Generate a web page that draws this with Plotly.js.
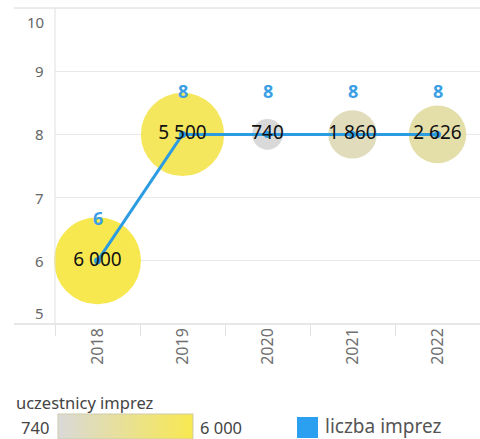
<!DOCTYPE html>
<html>
<head>
<meta charset="utf-8">
<script src="https://cdn.plot.ly/plotly-3.0.1.min.js"></script>
<style>html,body{margin:0;padding:0;background:#fff;}#chart{width:480px;height:439px;}</style>
</head>
<body>
<div id="chart"></div>
<script>
var years = ['2018', '2019', '2020', '2021', '2022'];
var eventCount = [6, 8, 8, 8, 8];            // liczba imprez
var participants = [6000, 5500, 740, 1860, 2626]; // uczestnicy imprez
var yTicks = [5, 6, 7, 8, 9, 10];
var sizeLabel = 'uczestnicy imprez';
var lineLabel = 'liczba imprez';

var pMin = Math.min.apply(null, participants);
var pMax = Math.max.apply(null, participants);
var maxDiameter = 87;
var FONT = 'Noto Sans, sans-serif';

// plot area in pixels: left 55, right 480, top 8, bottom 324
function px2x(p) { return (p - 55) / 425; }
function px2y(p) { return (324 - p) / 316; }

var bubbles = {
  type: 'scatter', mode: 'markers',
  x: years, y: eventCount,
  marker: {
    size: participants, sizemode: 'area',
    sizeref: 2 * pMax / (maxDiameter * maxDiameter),
    color: participants, cmin: pMin, cmax: pMax,
    colorscale: [[0, '#d9d9d9'], [1, '#f8e850']],
    opacity: 1, line: {width: 0},
    showscale: true,
    colorbar: {
      orientation: 'h', lenmode: 'pixels', len: 135, thickness: 25,
      x: px2x(58), xanchor: 'left', y: px2y(414), yanchor: 'top',
      xpad: 0, ypad: 0,
      outlinewidth: 1, outlinecolor: '#cfcba8',
      showticklabels: false, ticks: ''
    }
  },
  hoverinfo: 'skip', showlegend: false, cliponaxis: false
};

var line = {
  type: 'scatter', mode: 'lines+markers',
  x: years, y: eventCount,
  line: {color: '#2b9be2', width: 3},
  marker: {color: '#2b9be2', size: 7},
  hoverinfo: 'skip', showlegend: false, cliponaxis: false
};

var bubbleText = {
  type: 'scatter', mode: 'text',
  x: years, y: eventCount,
  text: participants, texttemplate: '%{text:,}', textposition: 'middle center',
  textfont: {family: FONT, size: 19, color: '#111'},
  hoverinfo: 'skip', showlegend: false, cliponaxis: false
};

var annotations = [];
years.forEach(function (yr, i) {
  annotations.push({
    x: i, y: eventCount[i], xref: 'x', yref: 'y', text: String(eventCount[i]),
    showarrow: false, yshift: 43,
    font: {family: FONT, size: 18, color: '#3a9fe4', weight: 'bold'}
  });
});
var yMin = Math.min.apply(null, yTicks), yMax = Math.max.apply(null, yTicks);
yTicks.forEach(function (v) {
  annotations.push({
    x: 0, xref: 'paper', y: v, yref: 'y', text: String(v), showarrow: false,
    xanchor: 'right', xshift: -9, yshift: v === yMax ? -14 : (v === yMin ? 11 : 0),
    font: {family: FONT, size: 15, color: '#666'}
  });
});
annotations.push({
  xref: 'paper', yref: 'paper', x: px2x(14), y: px2y(402),
  xanchor: 'left', yanchor: 'middle', text: sizeLabel, showarrow: false,
  font: {family: FONT, size: 16.5, color: '#444'}
});
annotations.push({
  xref: 'paper', yref: 'paper', x: px2x(51), y: px2y(427),
  xanchor: 'right', yanchor: 'middle', text: String(pMin), showarrow: false,
  font: {family: FONT, size: 16.5, color: '#444'}
});
annotations.push({
  xref: 'paper', yref: 'paper', x: px2x(198), y: px2y(427),
  xanchor: 'left', yanchor: 'middle', text: '6 000', showarrow: false,
  font: {family: FONT, size: 16.5, color: '#444'}
});
annotations.push({
  xref: 'paper', yref: 'paper', x: px2x(323), y: px2y(426),
  xanchor: 'left', yanchor: 'middle', text: lineLabel, showarrow: false,
  font: {family: FONT, size: 19, color: '#555'}
});

var layout = {
  width: 480, height: 439,
  margin: {l: 55, r: 0, t: 8, b: 115, autoexpand: false},
  paper_bgcolor: '#fff', plot_bgcolor: '#fff',
  separators: ', ',
  font: {family: FONT, color: '#666'},
  xaxis: {
    type: 'category', range: [-0.5, 4.5], fixedrange: true,
    showgrid: false, zeroline: false, showline: false,
    ticks: 'outside', tickson: 'boundaries', ticklen: 11, tickcolor: '#e2e2e2', tickwidth: 1,
    tickangle: -90, tickfont: {family: FONT, size: 16, color: '#707070'}
  },
  yaxis: {
    range: [yMin, yMax], tickvals: yTicks, showticklabels: false,
    showgrid: true, gridcolor: '#e8e8e8', gridwidth: 1,
    zeroline: false, showline: false, ticks: '', fixedrange: true
  },
  shapes: [
    {type: 'line', xref: 'paper', yref: 'paper', x0: px2x(14), x1: 1, y0: 1, y1: 1,
      line: {color: '#d8d8d8', width: 1}},
    {type: 'line', xref: 'paper', yref: 'paper', x0: px2x(14), x1: 1, y0: 0, y1: 0,
      line: {color: '#cfcfcf', width: 1}},
    {type: 'line', xref: 'paper', yref: 'paper', x0: 0, x1: 0, y0: 0, y1: 1,
      line: {color: '#e0e0e0', width: 1}},
    {type: 'rect', xref: 'paper', yref: 'paper',
      x0: px2x(297), x1: px2x(318), y0: px2y(438), y1: px2y(417),
      fillcolor: '#2ba0f0', line: {width: 0}}
  ],
  annotations: annotations
};

Plotly.newPlot('chart', [bubbles, line, bubbleText], layout, {displayModeBar: false, staticPlot: true});
</script>
</body>
</html>
